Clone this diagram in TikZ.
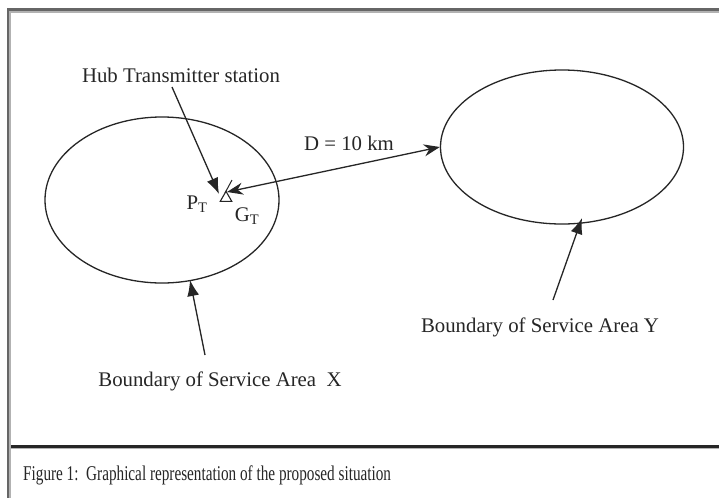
\documentclass[tikz,border=0pt]{standalone}
\usepackage{fontspec}
\setmainfont{Liberation Serif}
\newfontfamily\capfont[FakeStretch=0.725]{Liberation Serif}
\usetikzlibrary{shapes.geometric,arrows.meta}
\begin{document}
\begin{tikzpicture}[x=1pt,y=-1pt,
  lbl/.style={font=\fontsize{20.8}{24}\selectfont, inner sep=0pt, text=black!85},
  area/.style={ellipse, draw=black!85, line width=1.3pt, inner sep=0pt},
  arr/.style={draw=black!85, line width=1.3pt, -{Latex[length=16pt,width=12pt]}},
  darr/.style={draw=black!85, line width=1.3pt, {Stealth[length=16pt,width=12pt]}-{Stealth[length=16pt,width=12pt]}}]
\useasboundingbox (0,0) rectangle (719,498);
\fill[white] (0,0) rectangle (719,498);
% frame
\fill[black!60] (7,8) rectangle (719,11);
\fill[black!30] (7,11) rectangle (719,13);
\fill[black!60] (7,8) rectangle (9,498);
\fill[black!30] (9,11) rectangle (11,498);
\fill[black!85] (11,445) rectangle (719,447.5);
\fill[black!30] (11,447.5) rectangle (719,449);
% areas
\node[area, minimum width=234pt, minimum height=166pt] (X) at (162,200) {};
\node[area, minimum width=243pt, minimum height=154pt] (Y) at (562,147) {};
% transmitter
\node[draw=black!85, line width=1.1pt, isosceles triangle, isosceles triangle apex angle=60, shape border rotate=90, minimum height=10pt, inner sep=0pt] (tx) at (226,198) {};
\coordinate (ant1) at (225,193);
\coordinate (ant2) at (232,180);
\draw[black!85, line width=1pt] (ant1) -- (ant2);
% labels
\node[lbl] (hub) at (181,75) {Hub Transmitter station};
\node[lbl] (dist) at (349,143) {D = 10 km};
\node[lbl] (pt) at (197,204) {P\textsubscript{T}};
\node[lbl] (gt) at (247,216) {G\textsubscript{T}};
\node[lbl] (bx) at (220,381) {Boundary of Service Area\ \ X};
\node[lbl] (by) at (540,327) {Boundary of Service Area Y};
\node[inner sep=0pt, text=black!85, font=\capfont\fontsize{21}{24}\selectfont, anchor=west] (cap) at (23,475) {Figure 1:\ \ Graphical representation of the proposed situation};
% connectors
\coordinate (hubs) at (172,87);
\coordinate (hubt) at (219,194);
\draw[arr] (hubs) -- (hubt);
\coordinate (dl) at (227,192);
\draw[darr] (dl) -- (Y.west);
\coordinate (xs) at (205,355);
\coordinate (xt) at (190,280);
\draw[arr] (xs) -- (xt);
\coordinate (ys) at (553,300);
\coordinate (yt) at (582,218);
\draw[arr] (ys) -- (yt);
\end{tikzpicture}
\end{document}
